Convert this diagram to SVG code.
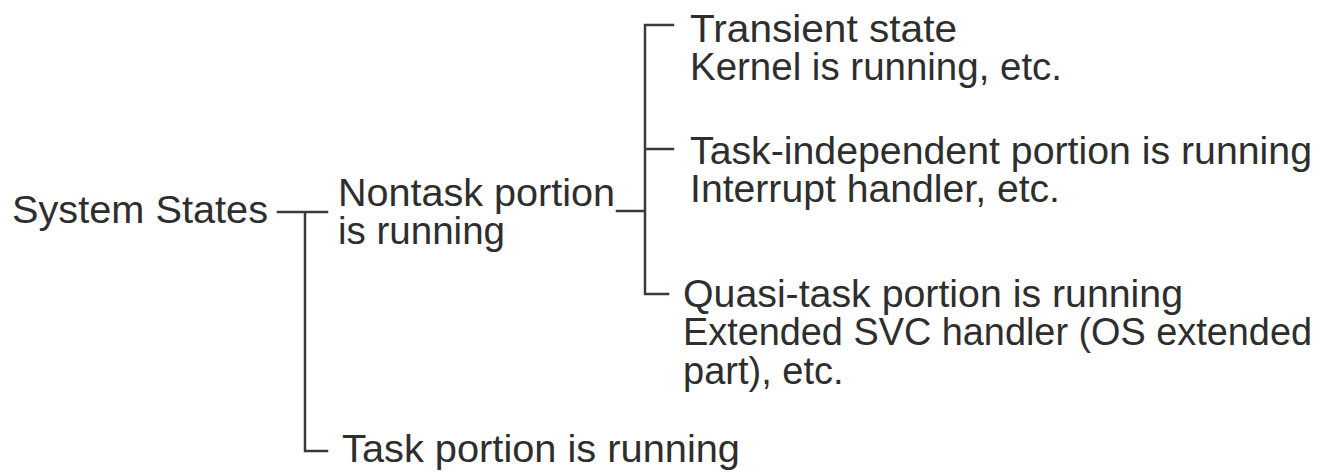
<svg xmlns="http://www.w3.org/2000/svg" width="1332" height="473" viewBox="0 0 1332 473">
<style>
text { font-family: "Liberation Sans", Arial, sans-serif; font-size: 38px; fill: #2e2e2e; }
.ln { stroke: #3a3a3a; stroke-width: 2.5; fill: none; stroke-linecap: square; }
</style>
<rect width="1332" height="473" fill="#ffffff"/>
<g id="connectors">
<path class="ln" d="M278,212 H327 M305,212 V451 H327"/>
<path class="ln" d="M617,211 H645 M673,25 H645 V294 H668 M645,149 H673"/>
</g>
<g id="system-states"><text x="12" y="223" textLength="256" lengthAdjust="spacingAndGlyphs">System States</text></g>
<g id="nontask"><text x="338" y="206" textLength="277" lengthAdjust="spacingAndGlyphs">Nontask portion</text><text x="338" y="244" textLength="167" lengthAdjust="spacingAndGlyphs">is running</text></g>
<g id="transient"><text x="690" y="42" textLength="267" lengthAdjust="spacingAndGlyphs">Transient state</text><text x="690" y="80" textLength="372" lengthAdjust="spacingAndGlyphs">Kernel is running, etc.</text></g>
<g id="task-independent"><text x="690" y="164" textLength="622" lengthAdjust="spacingAndGlyphs">Task-independent portion is running</text><text x="690" y="202" textLength="370" lengthAdjust="spacingAndGlyphs">Interrupt handler, etc.</text></g>
<g id="quasi-task"><text x="683" y="307" textLength="500" lengthAdjust="spacingAndGlyphs">Quasi-task portion is running</text><text x="683" y="345" textLength="629" lengthAdjust="spacingAndGlyphs">Extended SVC handler (OS extended</text><text x="683" y="384">part), etc.</text></g>
<g id="task"><text x="342" y="462" textLength="398" lengthAdjust="spacingAndGlyphs">Task portion is running</text></g>
</svg>
